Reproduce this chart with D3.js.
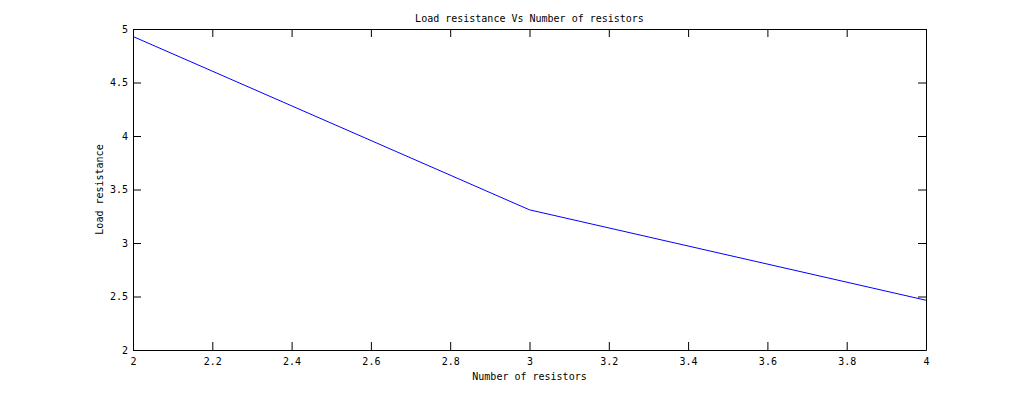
<!DOCTYPE html>
<html>
<head>
<meta charset="utf-8">
<script src="https://cdn.jsdelivr.net/npm/d3@7"></script>
<style>
  body { margin: 0; background: #fff; }
  svg text { font-family: "DejaVu Sans Mono", monospace; font-size: 10px; fill: #000; }
</style>
</head>
<body>
<svg id="chart" width="1023" height="393"></svg>
<script>
const resistors = [2, 3, 4];
const loadResistance = [4.93, 3.31, 2.465];
const xTicks = [2, 2.2, 2.4, 2.6, 2.8, 3, 3.2, 3.4, 3.6, 3.8, 4];
const yTicks = [2, 2.5, 3, 3.5, 4, 4.5, 5];

const svg = d3.select("#chart");
const margin = {left: 133, top: 29, right: 97, bottom: 43};
const width = 1023 - margin.left - margin.right;
const height = 393 - margin.top - margin.bottom;

const g = svg.append("g").attr("transform", `translate(${margin.left},${margin.top})`);

const x = d3.scaleLinear().domain([2, 4]).range([0, width]);
const y = d3.scaleLinear().domain([2, 5]).range([height, 0]);

// axes with inward ticks, mirrored on top/right
const fmt = d => String(d);
g.append("g").attr("transform", `translate(0,${height})`)
  .call(d3.axisBottom(x).tickValues(xTicks).tickFormat(fmt).tickSizeInner(-8).tickSizeOuter(0).tickPadding(8));
g.append("g")
  .call(d3.axisTop(x).tickValues(xTicks).tickFormat("").tickSizeInner(-8).tickSizeOuter(0));
g.append("g")
  .call(d3.axisLeft(y).tickValues(yTicks).tickFormat(fmt).tickSizeInner(-8).tickSizeOuter(0).tickPadding(5));
g.append("g").attr("transform", `translate(${width},0)`)
  .call(d3.axisRight(y).tickValues(yTicks).tickFormat("").tickSizeInner(-8).tickSizeOuter(0));

g.selectAll(".domain").attr("stroke", "#000");
g.selectAll(".tick line").attr("stroke", "#000");
g.selectAll(".tick text").style("font-size", "10px");

const line = d3.line().x((d, i) => x(resistors[i])).y(d => y(d));
g.append("path")
  .datum(loadResistance)
  .attr("fill", "none")
  .attr("stroke", "#0000ff")
  .attr("stroke-width", 1)
  .attr("d", line);

svg.append("text").attr("x", margin.left + width / 2).attr("y", 22)
  .attr("text-anchor", "middle").text("Load resistance Vs Number of resistors");
svg.append("text").attr("x", margin.left + width / 2).attr("y", 380)
  .attr("text-anchor", "middle").text("Number of resistors");
svg.append("text")
  .attr("transform", `translate(103,${margin.top + height / 2}) rotate(-90)`)
  .attr("text-anchor", "middle").text("Load resistance");
</script>
</body>
</html>
